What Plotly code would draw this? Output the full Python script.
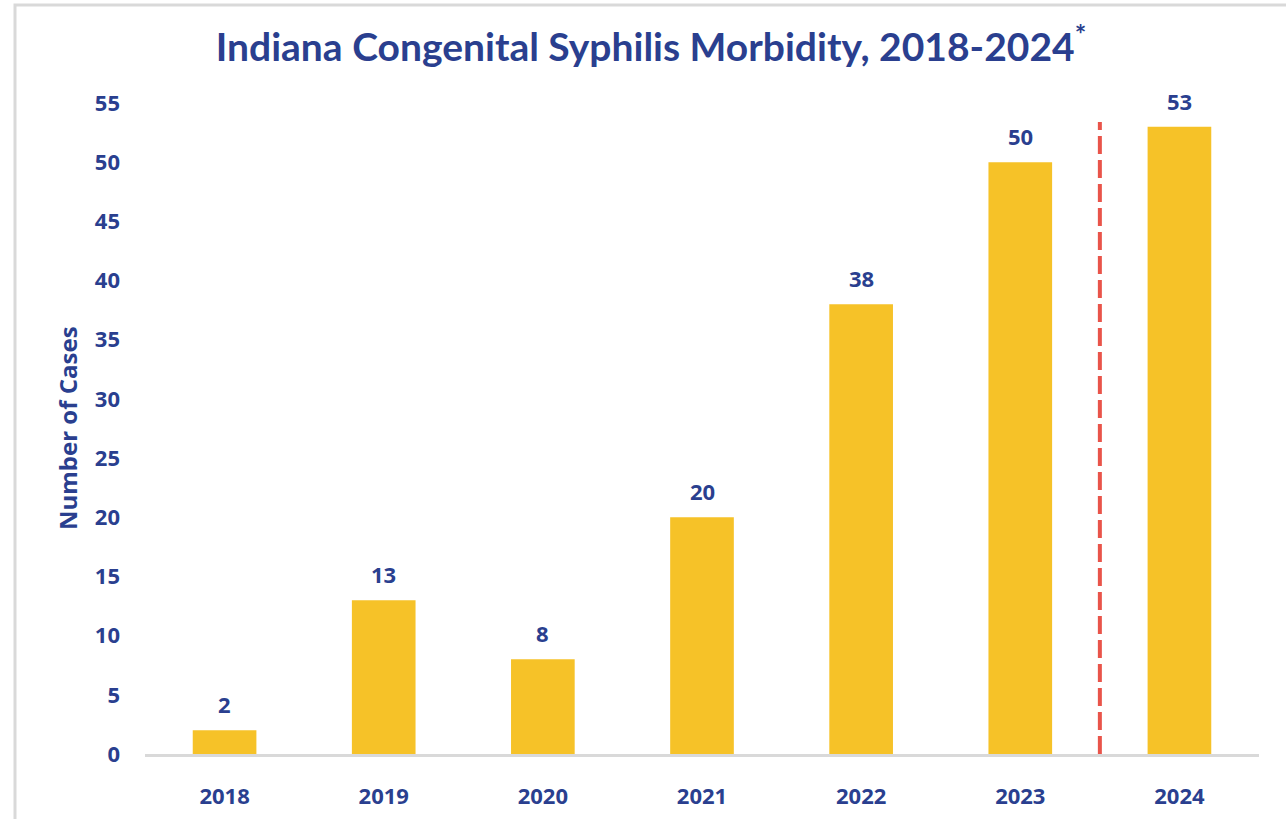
import plotly.graph_objects as go

years = ["2018", "2019", "2020", "2021", "2022", "2023", "2024"]
cases = [2, 13, 8, 20, 38, 50, 53]
y_ticks = [0, 5, 10, 15, 20, 25, 30, 35, 40, 45, 50, 55]

BLUE = "#2A3F8F"
YELLOW = "#F6C228"
RED = "#E9544A"
GRAY = "#D9D9D9"
FONT = "Open Sans"

W, H = 1286, 819
L, T = 145, 103
R = W - 1259
B = H - 754
pw, ph = W - L - R, H - T - B

def px_x(px):
    return (px - L) / pw

def px_y(py):
    return (H - B - py) / ph

fig = go.Figure()
fig.add_trace(go.Bar(
    x=years, y=cases, marker=dict(color=YELLOW, line=dict(width=0)),
    width=0.4, hoverinfo="skip",
))

annotations = []
for i, v in enumerate(cases):
    annotations.append(dict(
        x=i, y=v, xref="x", yref="y", text=str(v), showarrow=False,
        yshift=26, font=dict(family=FONT, size=22, color=BLUE, weight="bold"),
    ))
annotations.append(dict(
    x=px_x(67), y=px_y(428), xref="paper", yref="paper", text="Number of Cases",
    textangle=-90, showarrow=False, xanchor="center", yanchor="middle",
    font=dict(family=FONT, size=24, color=BLUE, weight="bold"),
))

shapes = [
    dict(type="line", xref="x", yref="y", x0=5.5, x1=5.5, y0=0, y1=53.4,
         line=dict(color=RED, width=4, dash="18px,6px")),
    dict(type="path", xref="paper", yref="paper",
         path=f"M {px_x(15)},{px_y(840)} L {px_x(15)},{px_y(5)} L {px_x(1320)},{px_y(5)}",
         line=dict(color=GRAY, width=3)),
]

fig.update_layout(
    width=W, height=H,
    margin=dict(l=L, r=R, t=T, b=B, autoexpand=False),
    paper_bgcolor="white", plot_bgcolor="white",
    showlegend=False,
    title=dict(
        text="Indiana Congenital Syphilis Morbidity, 2018-2024<sup>*</sup>",
        x=651 / W, xanchor="center", y=1 - 47 / H, yanchor="middle",
        xref="container", yref="container",
        font=dict(family="Lato", size=39, color=BLUE, weight="bold"),
    ),
    xaxis=dict(
        type="category", showgrid=False, zeroline=False,
        showline=True, linecolor=GRAY, linewidth=3, ticks="",
        tickfont=dict(family=FONT, size=22, color=BLUE, weight="bold"),
        ticklabelstandoff=21, range=[-0.5, 6.5],
    ),
    yaxis=dict(
        range=[0, 55], tickvals=y_ticks, showgrid=False, zeroline=False,
        showline=False, ticks="",
        tickfont=dict(family=FONT, size=22, color=BLUE, weight="bold"),
        ticklabelstandoff=24,
    ),
    annotations=annotations,
    shapes=shapes,
)

fig.write_html("out.html", config={"displayModeBar": False},
               post_script="document.body.style.margin='0';")
